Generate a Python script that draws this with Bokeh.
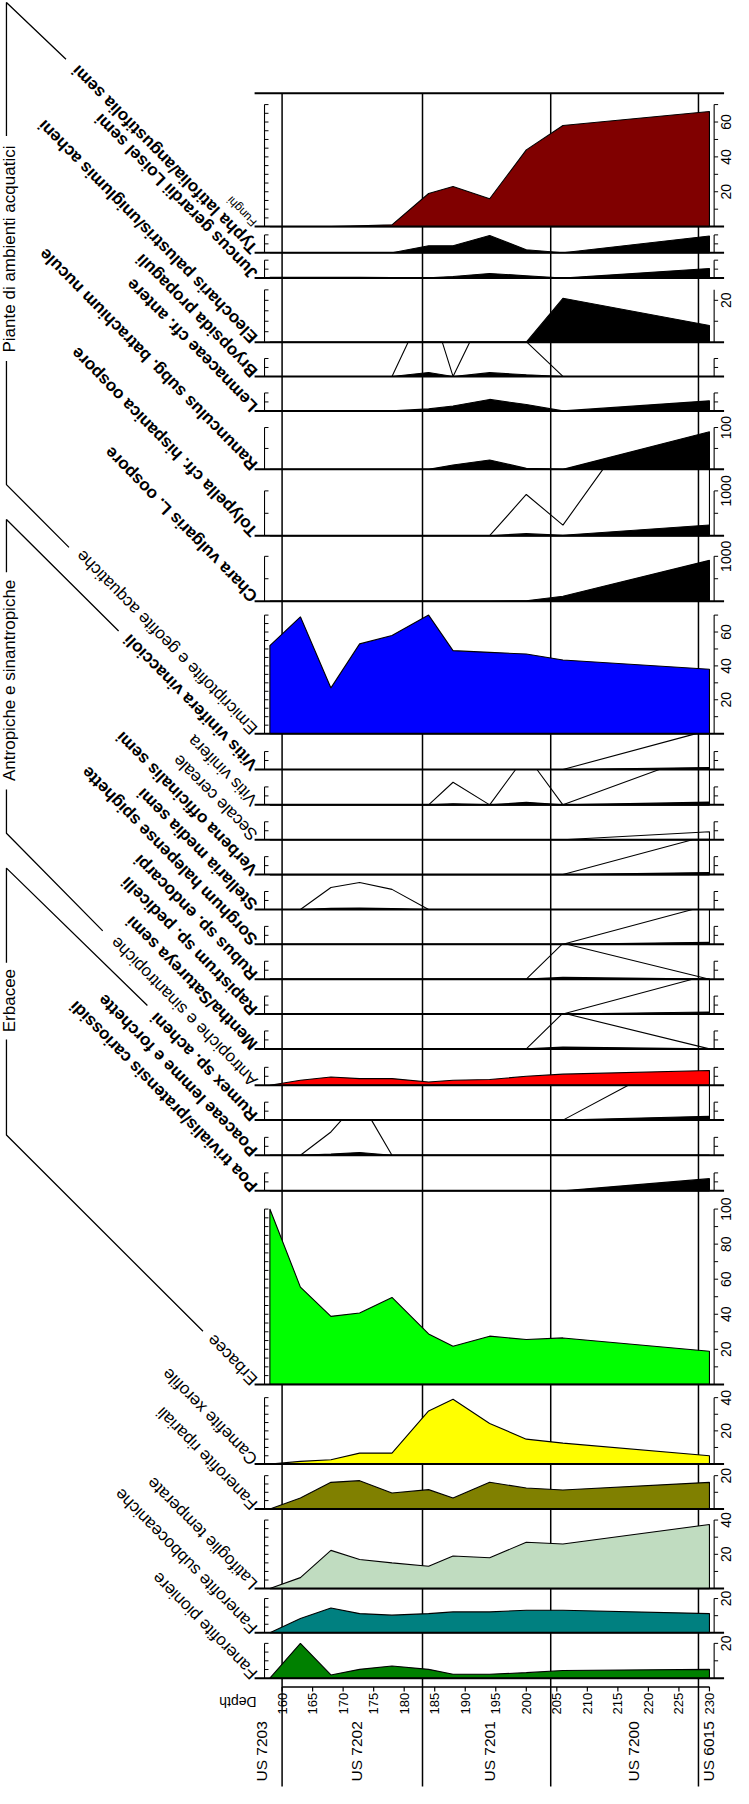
import math
import numpy as np
from bokeh.plotting import figure
from bokeh.models import Range1d
from bokeh.embed import file_html
from bokeh.resources import INLINE
from bokeh.core.properties import value

# ---------------- data ----------------
depths = [158, 163, 168, 172.7, 178, 184, 188, 194, 200, 206, 230]
depth_ticks = list(range(160, 231, 5))
zone_bounds = [160, 183, 204, 228.2]
zone_labels = ["US 7203", "US 7202", "US 7201", "US 7200", "US 6015"]
zone_label_depths = [156.6, 172.2, 194.0, 217.6, 229.8]

fanerofite_pioniere = [0, 20, 1.9, 5.1, 7, 5.1, 2.3, 2.3, 3.2, 4.4, 5.1]
fanerofite_subboceaniche = [0, 8.3, 14.5, 11.2, 10.3, 11.2, 12.2, 12.2, 13.2, 13.2, 11.2]
latifoglie_temperate = [0, 6.4, 22.3, 17, 15, 13, 19, 18, 27, 26, 37.4]
fanerofite_ripariali = [0, 6.6, 16, 17, 9.6, 11.6, 6.6, 16, 12.6, 11.4, 16]
camefite_xerofile = [0, 1.6, 2.6, 6.6, 6.6, 32, 39, 24.4, 15, 12.6, 5]
erbacee = [100, 55.5, 38.8, 40.7, 49.6, 28.8, 21.8, 27.5, 25.6, 26.5, 18.9]
poa_trivialis = [0, 0, 0, 0, 0, 0, 0, 0, 0, 0, 6.8]
poaceae_lemme = [0, 0, 0.65, 1.55, 0, 0, 0, 0, 0, 0, 0]
rumex = [0, 0, 0, 0, 0, 0, 0, 0, 0, 0, 2.18]
antropiche = [0, 2.8, 4.6, 3.7, 3.7, 1.8, 2.8, 3.2, 5, 6.2, 8.2]
mentha = [0, 0, 0, 0, 0, 0, 0, 0, 0, 1.0, 0]
rapistrum = [0, 0, 0, 0, 0, 0, 0, 0, 0, 0, 1.1]
rubus = [0, 0, 0, 0, 0, 0, 0, 0, 0, 1.0, 0]
sorghum = [0, 0, 0, 0, 0, 0, 0, 0, 0, 0, 1.1]
stellaria = [0, 0, 0.61, 0.75, 0.56, 0, 0, 0, 0, 0, 0]
verbena = [0, 0, 0, 0, 0, 0, 0, 0, 0, 0, 1.1]
secale = [0, 0, 0, 0, 0, 0, 0, 0, 0, 0, 0.22]
vitis_polline = [0, 0, 0, 0, 0, 0, 0.63, 0, 1.39, 0, 1.5]
vitis_vinaccioli = [0, 0, 0, 0, 0, 0, 0, 0, 0, 0, 1.1]
emicriptofite = [52, 69, 27, 53, 58, 70, 49, 48, 47, 43.5, 38]
chara = [0, 0, 0, 0, 0, 0, 0, 0, 10, 110, 910]
tolypella = [0, 0, 0, 0, 0, 0, 0, 0, 46, 11.8, 240]
ranunculus = [0, 0, 0, 0, 0, 0, 10.5, 22.4, 2.4, 0, 90]
lemnaceae = [0, 0, 0, 0, 0, 1.1, 2.7, 6.4, 3.6, 0, 5.6]
bryopsida = [0, 0, 0, 0, 0, 2.17, 0, 2.1, 0.97, 0, 0]
eleocharis = [0, 0, 0, 0, 0, 0, 0, 0, 0, 21, 8]
juncus = [0.4, 0.5, 0.5, 0.4, 0.3, 0.2, 0.9, 2.6, 1.3, 0, 5.4]
typha = [0, 0, 0, 0, 0, 3.9, 3.9, 9.7, 1.7, 0, 9.4]
funghi = [0, 0, 0, 0.5, 1, 19, 23, 16, 44, 58, 66]

group_names = ["Erbacee", "Antropiche e sinantropiche", "Piante di ambienti acquatici"]

# ---------------- layout (reference pixel coordinates) ----------------
FONT = "Liberation Sans"
EXAG = 20
XL, XR = 9.0, 747.5          # reference x shown at the canvas left / right edge
YB, YT = 1799.0, 4.0         # reference y shown at the canvas bottom / top edge
PX0, PXK = 292.7, 6.151      # depth 160 at reference x 292.7, px per depth unit
d_start = 160 + (XL - PX0) / PXK
d_end = 160 + (XR - PX0) / PXK
TOP_FRAME = 97
ANG = math.radians(134.5)
SK = 1.8  # px per unit for the small macro-remain panels

# label, bold, values, color, baseline, px/unit, axis max, left step, right ticks, right labels, exaggerated
panels = [
    ("Fanerofite pioniere", False, fanerofite_pioniere, "#008000", 1688.3, 1.75, 20, 5, [10, 20], [20], False),
    ("Fanerofite subboceaniche", False, fanerofite_subboceaniche, "#008080", 1642.7, 1.72, 20, 5, [10, 20], [20], False),
    ("Latifoglie temperate", False, latifoglie_temperate, "#C0DCC0", 1598.3, 1.72, 40, 5, [10, 20, 30, 40], [20, 40], False),
    ("Fanerofite ripariali", False, fanerofite_ripariali, "#808000", 1518.3, 1.667, 20, 5, [10, 20], [20], False),
    ("Camefite xerofile", False, camefite_xerofile, "#FFFF00", 1473.3, 1.667, 40, 5, [10, 20, 30, 40], [20, 40], False),
    ("Erbacee", False, erbacee, "#00FF00", 1393.3, 1.76, 100, 5, list(range(10, 101, 10)), [20, 40, 60, 80, 100], False),
    ("Poa trivialis/pratensis cariossidi", True, poa_trivialis, "black", 1199, SK, 10, 5, [5, 10], [], False),
    ("Poaceae lemme e forchette", True, poaceae_lemme, "black", 1163.3, SK, 10, 5, [5, 10], [], True),
    ("Rumex sp. acheni", True, rumex, "black", 1128, SK, 10, 5, [5, 10], [], True),
    ("Antropiche e sinantropiche", False, antropiche, "#FF0000", 1093, SK, 10, 5, [5, 10], [], False),
    ("Mentha/Satureya semi", True, mentha, "black", 1056.5, SK, 10, 5, [5, 10], [], True),
    ("Rapistrum sp. pedicelli", True, rapistrum, "black", 1021.5, SK, 10, 5, [5, 10], [], True),
    ("Rubus sp. endocarpi", True, rubus, "black", 986.5, SK, 10, 5, [5, 10], [], True),
    ("Sorghum halepense spighette", True, sorghum, "black", 951.5, SK, 10, 5, [5, 10], [], True),
    ("Stellaria media semi", True, stellaria, "black", 916.5, SK, 10, 5, [5, 10], [], True),
    ("Verbena officinalis semi", True, verbena, "black", 881.5, SK, 10, 5, [5, 10], [], True),
    ("Secale cereale", False, secale, "black", 846.5, SK, 10, 5, [5, 10], [], True),
    ("Vitis vinifera", False, vitis_polline, "black", 811.5, SK, 10, 5, [5, 10], [], True),
    ("Vitis vinifera vinaccioli", True, vitis_vinaccioli, "black", 776, SK, 10, 5, [5, 10], [], True),
    ("Emicriptofite e geofite acquatiche", False, emicriptofite, "#0000FF", 740, 1.7, 70, 5, list(range(10, 71, 10)), [20, 40, 60], False),
    ("Chara vulgaris L. oospore", True, chara, "black", 607, 0.045, 1000, 500, [500, 1000], [1000], False),
    ("Tolypella cfr. hispanica oospore", True, tolypella, "black", 541.3, 0.045, 1000, 500, [500, 1000], [1000], True),
    ("Ranunculus subg. batrachium nucule", True, ranunculus, "black", 474.7, 0.42, 100, 50, [50, 100], [100], False),
    ("Lemnaceae cfr. antere", True, lemnaceae, "black", 416, SK, 10, 5, [5, 10], [], False),
    ("Bryopsida propaguli", True, bryopsida, "black", 381.4, SK, 10, 5, [5, 10], [], True),
    ("Eleocharis palustris/uniglumis acheni", True, eleocharis, "black", 347, 2.1, 25, 5, [10, 20], [20], False),
    ("Juncus gerardii Loisel semi", True, juncus, "black", 282.7, SK, 10, 5, [5, 10], [], False),
    ("Typha latifolia/angustifolia semi", True, typha, "black", 257.3, SK, 10, 5, [5, 10], [], False),
    ("Funghi", False, funghi, "#800000", 231, 1.75, 70, 5, list(range(10, 71, 10)), [20, 40, 60], False),
]

p = figure(width=733, height=1788, output_backend="svg", toolbar_location=None,
           x_axis_location=None, y_axis_location=None, min_border=0,
           x_range=Range1d(d_start, d_end), y_range=Range1d(YB, YT))
p.outline_line_color = None
p.grid.visible = False
p.background_fill_color = "white"
p.border_fill_color = "white"

ranges = {}
for i, P in enumerate(panels):
    b, k = P[4], P[5]
    ranges[f"p{i}"] = Range1d((b - YB) / k, (b - YT) / k)
p.extra_y_ranges = ranges
p.extra_x_ranges = {"px": Range1d(XL, XR)}

# zone boundaries
p.segment(x0=zone_bounds, x1=zone_bounds, y0=[TOP_FRAME] * 4, y1=[1797] * 4,
          line_color="black", line_width=1.5)
# top frame
p.segment(x0=[265], x1=[738], y0=[TOP_FRAME], y1=[TOP_FRAME], x_range_name="px",
          line_color="black", line_width=2)


def clip_top(xs, ys, top):
    ox, oy = [xs[0]], [min(ys[0], top)]
    for j in range(len(xs) - 1):
        x0, y0, x1, y1 = xs[j], ys[j], xs[j + 1], ys[j + 1]
        if (y0 - top) * (y1 - top) < 0:
            t = (top - y0) / (y1 - y0)
            ox.append(x0 + t * (x1 - x0))
            oy.append(top)
        ox.append(x1)
        oy.append(min(y1, top))
    return ox, oy


for i, P in enumerate(panels):
    label, bold, vals, color, b, k, amax, lstep, rticks, rlabels, exag = P
    name = f"p{i}"
    btop = panels[i + 1][4] if i + 1 < len(panels) else TOP_FRAME
    band_max = (b - btop) / k
    if exag:
        ev = list(np.array(vals, dtype=float) * EXAG)
        cx, cy = clip_top(depths, ev, band_max)
        p.patch(cx + [depths[-1], depths[0]], cy + [0, 0], fill_color=None,
                line_color="black", line_width=1.1, y_range_name=name)
    p.patch(depths + [depths[-1], depths[0]], list(vals) + [0, 0], fill_color=color,
            line_color="black", line_width=1.1, y_range_name=name)
    # baseline
    p.segment(x0=[265], x1=[738], y0=[0], y1=[0], x_range_name="px", y_range_name=name,
              line_color="black", line_width=2)
    # left axis
    lt = list(np.arange(lstep, amax + 0.01, lstep))
    p.segment(x0=[275], x1=[275], y0=[0], y1=[amax], x_range_name="px", y_range_name=name,
              line_color="black", line_width=1.1)
    p.segment(x0=[275] * len(lt), x1=[279] * len(lt), y0=lt, y1=lt, x_range_name="px",
              y_range_name=name, line_color="black", line_width=1)
    # right axis
    p.segment(x0=[728], x1=[728], y0=[0], y1=[amax], x_range_name="px", y_range_name=name,
              line_color="black", line_width=1.1)
    p.segment(x0=[728] * len(rticks), x1=[732] * len(rticks), y0=rticks, y1=rticks,
              x_range_name="px", y_range_name=name, line_color="black", line_width=1)
    if rlabels:
        p.text(x=[740] * len(rlabels), y=rlabels, text=[str(v) for v in rlabels],
               angle=math.pi / 2, text_align="center", text_baseline="middle",
               x_range_name="px", y_range_name=name, text_font=value(FONT),
               text_font_size="14px", text_color="black")

# panel labels
for bold_flag in (True, False):
    sel = [P for P in panels if P[1] == bold_flag and P[0] != "Funghi"]
    p.text(x=[265] * len(sel), y=[P[4] - 2 for P in sel], text=[P[0] for P in sel],
           angle=ANG, text_align="left", text_baseline="middle", x_range_name="px",
           text_font=value(FONT), text_font_size="17px",
           text_font_style="bold" if bold_flag else "normal", text_color="black")
fp = [P for P in panels if P[0] == "Funghi"]
p.text(x=[265], y=[fp[0][4] - 2], text=["Funghi"], angle=ANG, text_align="left",
       text_baseline="middle", x_range_name="px", text_font=value(FONT),
       text_font_size="12px", text_color="black")

# group brackets
p.text(x=[18] * 3, y=[1008, 686.5, 253.5], text=group_names, angle=math.pi / 2,
       text_align="center", text_baseline="middle", x_range_name="px",
       text_font=value(FONT), text_font_size="17px", text_color="black")
bx = [[75, 15, 15], [15, 15, 78],
      [128, 15, 15], [15, 15, 112],
      [157, 15, 15], [15, 15, 213]]
by = [[63, 6, 140], [366, 490, 553],
      [637, 525, 578], [796, 840, 938],
      [1013, 875, 970], [1047, 1143, 1340]]
p.multi_line(xs=bx, ys=by, x_range_name="px", line_color="black", line_width=1.3)

# depth axis
p.segment(x0=[160], x1=[230], y0=[1697], y1=[1697], line_color="black", line_width=1.5)
p.segment(x0=depth_ticks, x1=depth_ticks, y0=[1697] * len(depth_ticks),
          y1=[1701.5] * len(depth_ticks), line_color="black", line_width=1.2)
p.text(x=depth_ticks, y=[1703] * len(depth_ticks), text=[str(t) for t in depth_ticks],
       angle=math.pi / 2, text_align="right", text_baseline="middle",
       text_font=value(FONT), text_font_size="13px", text_color="black")
p.text(x=[267], y=[1712], text=["Depth"], angle=math.pi, text_align="left",
       text_baseline="middle", x_range_name="px", text_font=value(FONT),
       text_font_size="14px", text_color="black")
p.text(x=zone_label_depths, y=[1792] * len(zone_labels), text=zone_labels,
       angle=math.pi / 2, text_align="left", text_baseline="middle",
       text_font=value(FONT), text_font_size="15.5px", text_color="black")

open("out.html", "w").write(file_html(p, INLINE))
